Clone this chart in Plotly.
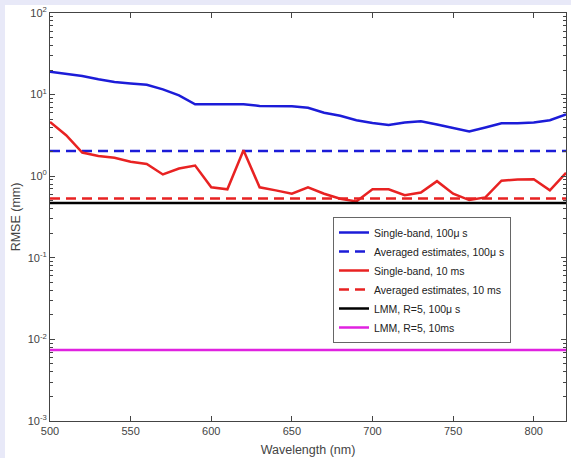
import plotly.graph_objects as go

wavelength = list(range(500, 821, 10))

single_100us = [19.0, 17.8, 16.9, 15.4, 14.3, 13.7, 13.2, 11.6, 9.8, 7.6,
                7.6, 7.6, 7.6, 7.27, 7.2, 7.2, 6.9, 6.0, 5.5, 4.86,
                4.5, 4.25, 4.55, 4.72, 4.3, 3.9, 3.53, 3.95, 4.46, 4.46,
                4.55, 4.86, 5.7]
single_10ms = [4.63, 3.18, 1.95, 1.77, 1.68, 1.50, 1.41, 1.05, 1.24, 1.35,
               0.73, 0.69, 2.08, 0.73, 0.67, 0.61, 0.73, 0.61, 0.53, 0.49,
               0.69, 0.69, 0.585, 0.63, 0.87, 0.61, 0.51, 0.55, 0.88, 0.91,
               0.92, 0.67, 1.10]
avg_100us = 2.04
avg_10ms = 0.533
lmm_100us = 0.47
lmm_10ms = 0.0074

names = ["Single-band, 100\u03bc s", "Averaged estimates, 100\u03bc s",
         "Single-band, 10 ms", "Averaged estimates, 10 ms",
         "LMM, R=5, 100\u03bc s", "LMM, R=5, 10ms"]

x_ticks = [500, 550, 600, 650, 700, 750, 800]
y_decades = [-3, -2, -1, 0, 1, 2]
y_tickvals = [10.0 ** d for d in y_decades]
y_ticktext = ["10<sup>%d</sup>" % d for d in y_decades]
y_minor = [m * 10.0 ** d for d in y_decades[:-1] for m in range(2, 10)]

BLUE = "#1c1cd8"
RED = "#e82222"
MAG = "#e022e0"

n = len(wavelength)
fig = go.Figure()
fig.add_trace(go.Scatter(x=wavelength, y=single_100us, mode="lines", name=names[0],
                         line=dict(color=BLUE, width=2.5)))
fig.add_trace(go.Scatter(x=wavelength, y=[avg_100us] * n, mode="lines", name=names[1],
                         line=dict(color=BLUE, width=2.5, dash="10px,6px")))
fig.add_trace(go.Scatter(x=wavelength, y=single_10ms, mode="lines", name=names[2],
                         line=dict(color=RED, width=2.5)))
fig.add_trace(go.Scatter(x=wavelength, y=[avg_10ms] * n, mode="lines", name=names[3],
                         line=dict(color=RED, width=2.5, dash="10px,6px")))
fig.add_trace(go.Scatter(x=wavelength, y=[lmm_100us] * n, mode="lines", name=names[4],
                         line=dict(color="black", width=2.5)))
fig.add_trace(go.Scatter(x=wavelength, y=[lmm_10ms] * n, mode="lines", name=names[5],
                         line=dict(color=MAG, width=2.5)))

L, R, T, B = 50, 5, 13, 37
W, H = 571, 458
pw, ph = W - L - R, H - T - B

fig.add_shape(type="rect", xref="paper", yref="paper",
              x0=(5 - L) / pw, x1=(W + 2 - L) / pw,
              y0=-(B + 2) / ph, y1=1 + (T - 5) / ph,
              fillcolor="white", line=dict(width=0), layer="below")

axis_common = dict(showgrid=False, zeroline=False, showline=True, linecolor="#444",
                   linewidth=1, mirror="ticks", ticks="inside", ticklen=5,
                   tickcolor="#444", tickfont=dict(size=11, color="#444"),
                   automargin=False)

fig.update_layout(
    width=W, height=H,
    margin=dict(l=L, r=R, t=T, b=B),
    paper_bgcolor="#e8e9f8",
    plot_bgcolor="white",
    font=dict(family="Liberation Sans, Arial, sans-serif", color="#333"),
    showlegend=True,
    legend=dict(x=(333 - L) / pw, y=(H - B - 217) / ph, xanchor="left", yanchor="top",
                bgcolor="white", bordercolor="#666", borderwidth=1,
                font=dict(size=10.5, color="#222"), tracegroupgap=0),
    xaxis=dict(range=[500, 820], tickvals=x_ticks,
               title=dict(text="Wavelength (nm)", font=dict(size=12.5, color="#444"), standoff=9),
               **axis_common),
    yaxis=dict(type="log", range=[-3, 2], tickvals=y_tickvals, ticktext=y_ticktext,
               title=dict(text="RMSE (mm)", font=dict(size=12.5, color="#444"), standoff=4),
               minor=dict(ticks="inside", ticklen=3, tickcolor="#444", showgrid=False,
                          tickmode="array", tickvals=y_minor),
               **axis_common),
)

fig.write_html("out.html", config={"displayModeBar": False},
               post_script="document.body.style.margin='0';document.body.style.overflow='hidden';")
